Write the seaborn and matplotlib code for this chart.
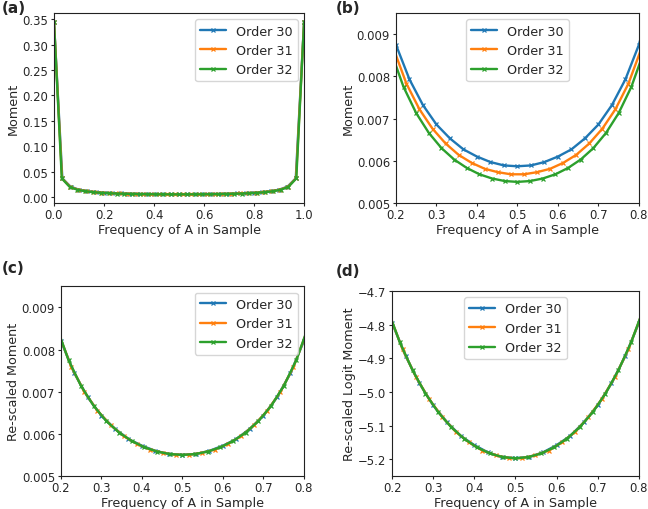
import numpy as np
import matplotlib
matplotlib.use("Agg")
import matplotlib.pyplot as plt
from matplotlib.ticker import FormatStrFormatter
import seaborn as sns

sns.set_style("ticks")
plt.rcParams['font.family'] = ['DejaVu Sans']
plt.rcParams['font.size'] = 9.2
plt.rcParams['xtick.labelsize'] = 8.4
plt.rcParams['ytick.labelsize'] = 8.4
plt.rcParams['axes.labelsize'] = 9.2
plt.rcParams['legend.fontsize'] = 9.2
plt.rcParams['xtick.major.size'] = 2.2
plt.rcParams['ytick.major.size'] = 2.4
plt.rcParams['xtick.major.pad'] = 1.2
plt.rcParams['ytick.major.pad'] = 1.8
plt.rcParams['axes.labelpad'] = 1.5

# ----------------------------
# Data
# ----------------------------
orders = [30, 31, 32]
labels = ["Order 30", "Order 31", "Order 32"]
colors = ["#1f77b4", "#ff7f0e", "#2ca02c"]

# moment values at sample frequency k/n, k = 0..n
moment_30 = [0.345, 0.0371, 0.0205, 0.01472, 0.01175, 0.00996, 0.00875, 0.00793,
             0.00732, 0.00686, 0.00653, 0.00627, 0.00610, 0.00597, 0.00589, 0.00587,
             0.00589, 0.00597, 0.00610, 0.00627, 0.00653, 0.00686, 0.00732, 0.00793,
             0.00875, 0.00996, 0.01175, 0.01472, 0.0205, 0.0371, 0.345]
moment_31 = [0.345, 0.03692, 0.02040, 0.01462, 0.01166, 0.00987, 0.00867, 0.00783,
             0.00722, 0.00676, 0.00641, 0.00614, 0.00595, 0.00581, 0.00573, 0.00568,
             0.00568, 0.00573, 0.00581, 0.00595, 0.00614, 0.00641, 0.00676, 0.00722,
             0.00783, 0.00867, 0.00987, 0.01166, 0.01462, 0.02040, 0.03692, 0.345]
moment_32 = [0.345, 0.03677, 0.02030, 0.01453, 0.01157, 0.00978, 0.00859, 0.00775,
             0.00713, 0.00666, 0.00630, 0.00603, 0.00583, 0.00568, 0.00558, 0.00552,
             0.00550, 0.00552, 0.00558, 0.00568, 0.00583, 0.00603, 0.00630, 0.00666,
             0.00713, 0.00775, 0.00859, 0.00978, 0.01157, 0.01453, 0.02030, 0.03677,
             0.345]
moments = [moment_30, moment_31, moment_32]

# sample frequency grid for each order
freqs = [np.arange(n + 1) / n for n in orders]

# re-scale to order 32, then logit
rescaled = [np.array(m) * n / 32 for m, n in zip(moments, orders)]
rescaled_logit = [np.log(r / (1 - r)) for r in rescaled]

# ----------------------------
# Figure
# ----------------------------
fig = plt.figure(figsize=(6.48, 5.10), dpi=100)
ax_a = fig.add_axes([0.0833, 0.600, 0.386, 0.3725])
ax_b = fig.add_axes([0.611, 0.600, 0.375, 0.3725])
ax_c = fig.add_axes([0.094, 0.0647, 0.375, 0.372])
ax_d = fig.add_axes([0.605, 0.0647, 0.381, 0.363])


def draw(ax, ys):
    for x, y, lab, col in zip(freqs, ys, labels, colors):
        sns.lineplot(x=x, y=y, ax=ax, color=col, label=lab, marker="x",
                     linewidth=1.7, markersize=3.3, markeredgewidth=0.9,
                     markeredgecolor=col)
    ax.set_xlabel("Frequency of A in Sample")


# (a) full range
draw(ax_a, moments)
ax_a.set_xlim(0, 1)
ax_a.set_yticks([0.0, 0.05, 0.10, 0.15, 0.20, 0.25, 0.30, 0.35])
ax_a.yaxis.set_major_formatter(FormatStrFormatter('%.2f'))
ax_a.set_xticks([0.0, 0.2, 0.4, 0.6, 0.8, 1.0])
ax_a.set_ylabel("Moment")
ax_a.legend(loc="upper right")

# (b) zoomed
draw(ax_b, moments)
ax_b.set_ylim(0.005, 0.0095)
ax_b.set_yticks([0.005, 0.006, 0.007, 0.008, 0.009])
ax_b.set_ylabel("Moment")
ax_b.legend(loc="upper center")

# (c) re-scaled
draw(ax_c, rescaled)
ax_c.set_ylim(0.005, 0.0095)
ax_c.set_yticks([0.005, 0.006, 0.007, 0.008, 0.009])
ax_c.set_ylabel("Re-scaled Moment")
ax_c.legend(loc="upper right")

# (d) re-scaled logit
draw(ax_d, rescaled_logit)
ax_d.set_ylim(-5.25, -4.7)
ax_d.set_yticks([-5.2, -5.1, -5.0, -4.9, -4.8, -4.7])
ax_d.set_ylabel("Re-scaled Logit Moment")
ax_d.legend(loc="upper center")

for ax in [ax_b, ax_c, ax_d]:
    ax.set_xlim(0.2, 0.8)
    ax.set_xticks([0.2, 0.3, 0.4, 0.5, 0.6, 0.7, 0.8])

for ax in [ax_a, ax_b, ax_c, ax_d]:
    for s in ax.spines.values():
        s.set_visible(True)
        s.set_color("#222222")

# panel letters
fig.text(2 / 648, 1 - 1 / 510, "(a)", fontsize=11, fontweight="bold", va="top")
fig.text(336 / 648, 1 - 1 / 510, "(b)", fontsize=11, fontweight="bold", va="top")
fig.text(2 / 648, 1 - 261 / 510, "(c)", fontsize=11, fontweight="bold", va="top")
fig.text(336 / 648, 1 - 264 / 510, "(d)", fontsize=11, fontweight="bold", va="top")

plt.savefig("out.png", dpi=100)
